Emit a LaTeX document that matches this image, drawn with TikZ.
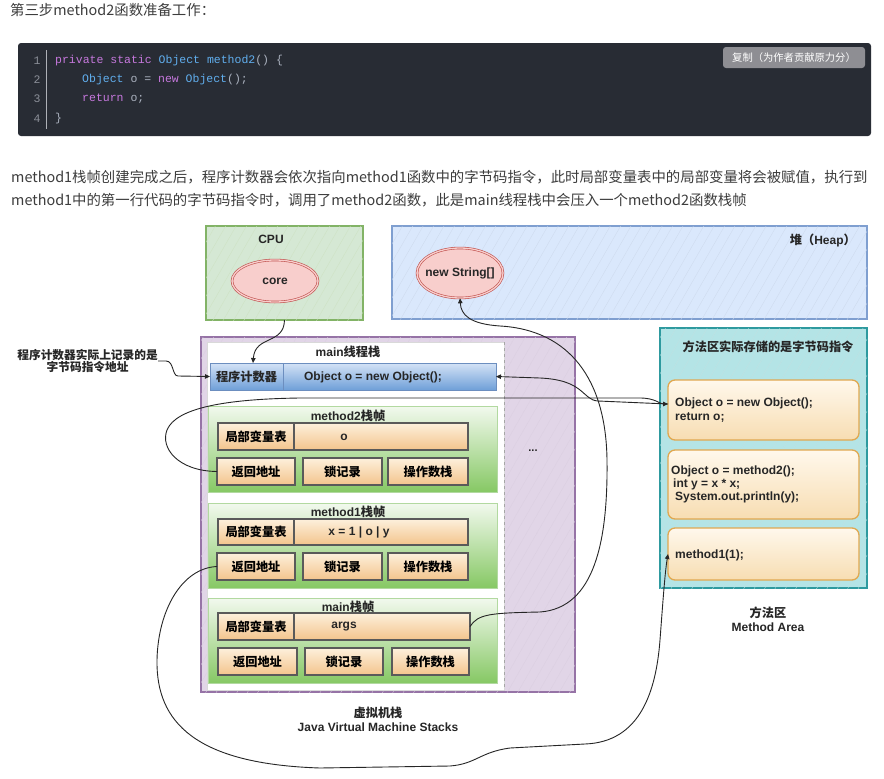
\documentclass[tikz,border=0pt]{standalone}
\usepackage{fontspec}
\setmainfont{Liberation Sans}
\setmonofont{Liberation Mono}
\newfontfamily\cjk{Noto Sans CJK SC}
\usetikzlibrary{arrows.meta,patterns.meta,shapes.geometric}
\newcommand\zh[1]{{\cjk\fontsize{12.2}{14}\selectfont #1}}
\definecolor{txt}{HTML}{3D3D3D}
\definecolor{codebg}{HTML}{282C34}
\definecolor{codefg}{HTML}{ABB2BF}
\definecolor{kw}{HTML}{C678DD}
\definecolor{ty}{HTML}{61AFEF}
\definecolor{lnum}{HTML}{8B8F98}
\definecolor{btn}{HTML}{8E8E93}
\definecolor{cpufill}{HTML}{D5E8D4}
\definecolor{cpuline}{HTML}{82B366}
\definecolor{heapfill}{HTML}{DAE8FC}
\definecolor{heapline}{HTML}{7F9FD0}
\definecolor{mafill}{HTML}{B4E4E6}
\definecolor{maline}{HTML}{2E9A9F}
\definecolor{purfill}{HTML}{E1D5E7}
\definecolor{purline}{HTML}{9673A6}
\definecolor{ellfill}{HTML}{F8CECC}
\definecolor{ellline}{HTML}{C0504D}
\definecolor{celltop}{HTML}{FDF0DC}
\definecolor{cellbot}{HTML}{F3C48C}
\definecolor{cellline}{HTML}{5A5A5A}
\definecolor{frtop}{HTML}{F2F9EE}
\definecolor{frbot}{HTML}{86C864}
\definecolor{frline}{HTML}{B2D9A0}
\definecolor{pctop}{HTML}{D4E3F6}
\definecolor{pcbot}{HTML}{6F9FD8}
\definecolor{pcline}{HTML}{6C8EBF}
\definecolor{mbtop}{HTML}{FFF8EC}
\definecolor{mbbot}{HTML}{F7DDB2}
\definecolor{mbline}{HTML}{E0A850}
\begin{document}
\begin{tikzpicture}[x=1pt,y=-1pt,
  bx/.style={anchor=north west, inner sep=0pt, outer sep=0pt},
  hatch/.style={postaction={pattern={Lines[angle=60,distance=9pt,line width=0.3pt]},pattern color=#1}},
  area/.style={bx, line width=1.2pt},
  cellbox/.style={bx, draw=cellline, line width=1.1pt, top color=celltop, bottom color=cellbot, font=\bfseries\fontsize{12}{14}\selectfont},
  stackframe/.style={bx, draw=frline, line width=0.8pt, top color=frtop, bottom color=frbot},
  pcbox/.style={bx, draw=pcline, line width=0.8pt, top color=pctop, bottom color=pcbot},
  mbox/.style={bx, draw=mbline, line width=1.3pt, rounded corners=7pt, top color=mbtop, bottom color=mbbot},
  lab/.style={inner sep=0pt, text=black!85, font=\bfseries\fontsize{12}{14}\selectfont},
  ell/.style={ellipse, draw=ellline, line width=0.6pt, double=ellfill, double distance=1.3pt, fill=ellfill, inner sep=0pt},
  conn/.style={draw=black!85, line width=0.9pt, -{Triangle[length=5pt,width=4.5pt]}},
  codef/.style={inner sep=0pt, anchor=west, text=codefg, font=\ttfamily\fontsize{11.5}{13}\selectfont}
]
\useasboundingbox (0,0) rectangle (884,779);
\fill[white] (0,0) rectangle (884,779);

% ---------- page text ----------
\node[anchor=west, inner sep=0pt, text=txt, font=\cjk\fontsize{14.4}{16}\selectfont] (title) at (10,10) {第三步method2函数准备工作：};

\node[bx, fill=codebg, rounded corners=3pt, minimum width=853pt, minimum height=93pt] (code) at (18,43) {};
\draw[lnum!70, line width=0.6pt] ([xshift=28pt,yshift=-7pt]code.north west) -- ([xshift=28pt,yshift=7pt]code.south west);
\node[codef, anchor=center, text=lnum] (n1) at (37,61) {1};
\node[codef, anchor=center, text=lnum] (n2) at (37,80) {2};
\node[codef, anchor=center, text=lnum] (n3) at (37,99) {3};
\node[codef, anchor=center, text=lnum] (n4) at (37,119) {4};
\node[codef] (c1) at (55,61) {\textcolor{kw}{private static} \textcolor{ty}{Object method2}() \{};
\node[codef] (c2) at (82,80) {\textcolor{ty}{Object} o = \textcolor{kw}{new} \textcolor{ty}{Object}();};
\node[codef] (c3) at (82,99) {\textcolor{kw}{return} o;};
\node[codef] (c4) at (55,119) {\}};
\node[bx, fill=btn, rounded corners=3pt, minimum width=142pt, minimum height=21pt, text=white, font=\cjk\fontsize{10.3}{12}\selectfont] (copy) at (723,47) {复制（为作者贡献原力分）};

\node[anchor=west, inner sep=0pt, text=txt, font=\cjk\fontsize{14.4}{16}\selectfont] (p1) at (11,177) {method1栈帧创建完成之后，程序计数器会依次指向method1函数中的字节码指令，此时局部变量表中的局部变量将会被赋值，执行到};
\node[anchor=west, inner sep=0pt, text=txt, font=\cjk\fontsize{14.4}{16}\selectfont] (p2) at (11,200) {method1中的第一行代码的字节码指令时，调用了method2函数，此是main线程栈中会压入一个method2函数栈帧};

% ---------- CPU ----------
\node[area, draw=cpuline, fill=cpufill, hatch=cpuline!40, minimum width=157pt, minimum height=94pt] (cpu) at (206,226) {};
\node[lab] (cpul) at (271,239) {CPU};
\node[ell, minimum width=86pt, minimum height=42pt] (core) at (275,281) {};
\node[lab] at (core) {core};

% ---------- Heap ----------
\node[area, draw=heapline, fill=heapfill, hatch=heapline!40, minimum width=475pt, minimum height=93pt] (heap) at (392,226) {};
\node[lab, anchor=east] (heapl) at (856,240) {\zh{堆（}Heap\zh{）}};
\node[ell, minimum width=86pt, minimum height=50pt] (str) at (460,273) {};
\node[lab] at (str) {new String[]};

% ---------- Method area ----------
\node[area, draw=maline, fill=mafill, hatch=maline!30, minimum width=207pt, minimum height=260pt] (ma) at (660,328) {};
\node[lab] (mal) at (768,347) {\zh{方法区实际存储的是字节码指令}};
\node[mbox, minimum width=191pt, minimum height=60pt] (mb1) at (668,380) {};
\node[lab, anchor=north west, align=left, font=\bfseries\fontsize{12}{14}\selectfont] (mt1) at (675,398) {Object o = new Object();\\return o;};
\node[mbox, minimum width=191pt, minimum height=69pt] (mb2) at (668,450) {};
\node[lab, anchor=north west, align=left, font=\bfseries\fontsize{12}{13}\selectfont] (mt2) at (671,466) {Object o = method2();\\\hspace{2pt}int y = x * x;\\\hspace{4pt}System.out.println(y);};
\node[mbox, minimum width=191pt, minimum height=52pt] (mb3) at (668,528) {};
\node[lab, anchor=west] (mt3) at (675,555) {method1(1);};
\node[lab] (mal1) at (768,613) {\zh{方法区}};
\node[lab] (mal2) at (768,627) {Method Area};

% ---------- JVM stacks ----------
\node[area, draw=purline, fill=purfill, hatch=purline!35, minimum width=374pt, minimum height=355pt] (jvm) at (201,337) {};
\node[bx, fill=white, draw=black!15, line width=0.6pt, minimum width=297pt, minimum height=348pt] (inner) at (207,342) {};
\draw[black!35, dashed, line width=0.8pt] (inner.north east) -- (inner.south east);
\node[lab] (innerl) at (348,352) {main\zh{线程栈}};
\node[lab, font=\bfseries\fontsize{11}{12}\selectfont] (dots) at (533,451) {...};
\node[lab] (jvml1) at (378,713) {\zh{虚拟机栈}};
\node[lab] (jvml2) at (378,727) {Java Virtual Machine Stacks};

% program counter
\node[pcbox, minimum width=73pt, minimum height=27pt] (pcl) at (210,363) {};
\node[pcbox, minimum width=213pt, minimum height=27pt] (pcr) at (283,363) {};
\node[lab] (pclt) at (pcl) {\zh{程序计数器}};
\node[lab] (pcrt) at (373,377) {Object o = new Object();};

% method2 frame
\node[stackframe, minimum width=289pt, minimum height=86pt] (fr2) at (208,406) {};
\node[lab] (fr2l) at (348,416) {method2\zh{栈帧}};
\node[cellbox, minimum width=76pt, minimum height=27pt] (lv2a) at (218,423) {\zh{局部变量表}};
\node[cellbox, minimum width=174pt, minimum height=27pt] (lv2b) at (294,423) {};
\node[lab] (lv2t) at (344,437) {o};
\node[cellbox, minimum width=78pt, minimum height=27pt] (ret2) at (217,458) {\zh{返回地址}};
\node[cellbox, minimum width=79pt, minimum height=27pt] (lock2) at (303,458) {\zh{锁记录}};
\node[cellbox, minimum width=80pt, minimum height=27pt] (ops2) at (388,458) {\zh{操作数栈}};

% method1 frame
\node[stackframe, minimum width=289pt, minimum height=85pt] (fr1) at (208,503) {};
\node[lab] (fr1l) at (348,512) {method1\zh{栈帧}};
\node[cellbox, minimum width=76pt, minimum height=26pt] (lv1a) at (218,519) {\zh{局部变量表}};
\node[cellbox, minimum width=174pt, minimum height=26pt] (lv1b) at (294,519) {};
\node[lab] (lv1t) at (359,532) {x = 1 | o | y};
\node[cellbox, minimum width=78pt, minimum height=27pt] (ret1) at (217,553) {\zh{返回地址}};
\node[cellbox, minimum width=79pt, minimum height=27pt] (lock1) at (303,553) {\zh{锁记录}};
\node[cellbox, minimum width=80pt, minimum height=27pt] (ops1) at (388,553) {\zh{操作数栈}};

% main frame
\node[stackframe, minimum width=289pt, minimum height=85pt] (fr0) at (208,598) {};
\node[lab] (fr0l) at (348,607) {main\zh{栈帧}};
\node[cellbox, minimum width=76pt, minimum height=27pt] (lv0a) at (218,613) {\zh{局部变量表}};
\node[cellbox, minimum width=176pt, minimum height=27pt] (lv0b) at (294,613) {};
\node[lab] (lv0t) at (344,627) {args};
\node[cellbox, minimum width=79pt, minimum height=27pt] (ret0) at (218,648) {\zh{返回地址}};
\node[cellbox, minimum width=78pt, minimum height=27pt] (lock0) at (305,648) {\zh{锁记录}};
\node[cellbox, minimum width=77pt, minimum height=27pt] (ops0) at (392,648) {\zh{操作数栈}};

% note
\node[lab, align=center, anchor=east, font=\bfseries\fontsize{11}{12.5}\selectfont] (note) at (158,361) {{\cjk\fontsize{11.7}{13}\selectfont 程序计数器实际上记录的是}\\{\cjk\fontsize{11.7}{13}\selectfont 字节码指令地址}};

% ---------- connectors ----------
\draw[conn] (cpu.south) .. controls (284,345) and (255,335) .. ([xshift=6.5pt]pcl.north);
\draw[conn] (note.east) -- ++(8,0) .. controls +(8,0) and +(-6,0) .. ++(12,15) -- (pcl.west);
\draw[conn] ([yshift=6pt]mb1.west) -- (598,401) .. controls (582,400) and (585,380) .. (540,378) -- (pcr.east);
\draw[conn] (ret2.west) .. controls (178,471) and (160,448) .. (167,430) .. controls (176,408) and (225,399) .. (300,398) -- (640,398) .. controls (655,398) and (660,404) .. ([yshift=6pt]mb1.west);
\draw[conn] (lv0b.east) .. controls (478,614) and (490,613) .. (540,612) .. controls (595,608) and (608,540) .. (607,460) .. controls (606,380) and (570,330) .. (500,326) .. controls (470,324) and (461,315) .. (str.south);
\draw[conn] (ret1.west) .. controls (182,568) and (158,610) .. (157,660) .. controls (156,722) and (195,764) .. (320,768) -- (450,766) .. controls (476,764) and (480,752) .. (510,748) -- (585,744) .. controls (640,742) and (656,692) .. (660,640) .. controls (663,600) and (665,572) .. (mb3.west);
\end{tikzpicture}
\end{document}
